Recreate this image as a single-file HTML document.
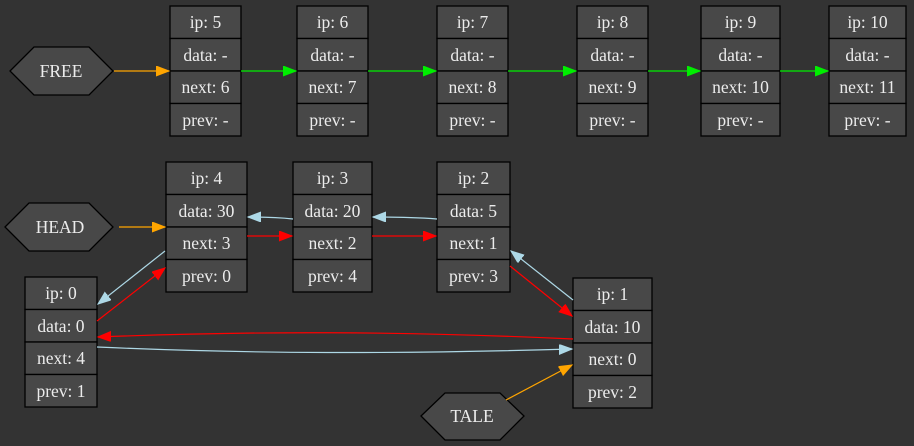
<!DOCTYPE html>
<html><head><meta charset="utf-8"><style>
html,body{margin:0;padding:0;background:#333333;}
svg{display:block;}
text{font-family:"Liberation Serif",serif;font-size:17.5px;fill:#ececec;text-anchor:middle;}
.c{fill:#484848;stroke:#000;stroke-width:1.3;}
</style></head><body>
<svg width="914" height="446" viewBox="0 0 914 446" xmlns="http://www.w3.org/2000/svg">
<rect width="914" height="446" fill="#333333"/>
<defs>
<marker id="aO" markerUnits="userSpaceOnUse" markerWidth="15" markerHeight="12" refX="13" refY="5" orient="auto"><path d="M0,0 L13,5 L0,10 z" fill="orange" stroke="orange"/></marker>
<marker id="aG" markerUnits="userSpaceOnUse" markerWidth="15" markerHeight="12" refX="13" refY="5" orient="auto"><path d="M0,0 L13,5 L0,10 z" fill="#00ee00" stroke="#00ee00"/></marker>
<marker id="aR" markerUnits="userSpaceOnUse" markerWidth="15" markerHeight="12" refX="13" refY="5" orient="auto"><path d="M0,0 L13,5 L0,10 z" fill="red" stroke="red"/></marker>
<marker id="aB" markerUnits="userSpaceOnUse" markerWidth="15" markerHeight="12" refX="13" refY="5" orient="auto"><path d="M0,0 L13,5 L0,10 z" fill="lightblue" stroke="lightblue"/></marker>
</defs>

<polygon class="c" points="10,71 34,47 89,47 113,71 89,95 34,95"/><text x="61" y="77">FREE</text>
<polygon class="c" points="5,227 29,203 89,203 113,227 89,251 29,251"/><text x="60" y="233">HEAD</text>
<polygon class="c" points="421,416 445,393 500,393 524,416 500,440 445,440"/><text x="472" y="422">TALE</text>

<g>
<rect class="c" x="170" y="6" width="71" height="32.5"/><rect class="c" x="170" y="38.5" width="71" height="32.5"/><rect class="c" x="170" y="71" width="71" height="32.5"/><rect class="c" x="170" y="103.5" width="71" height="32.5"/>
<text x="205.5" y="28">ip: 5</text><text x="205.5" y="61">data: -</text><text x="205.5" y="93">next: 6</text><text x="205.5" y="126">prev: -</text>
<rect class="c" x="297" y="6" width="71" height="32.5"/><rect class="c" x="297" y="38.5" width="71" height="32.5"/><rect class="c" x="297" y="71" width="71" height="32.5"/><rect class="c" x="297" y="103.5" width="71" height="32.5"/>
<text x="332.5" y="28">ip: 6</text><text x="332.5" y="61">data: -</text><text x="332.5" y="93">next: 7</text><text x="332.5" y="126">prev: -</text>
<rect class="c" x="437" y="6" width="71" height="32.5"/><rect class="c" x="437" y="38.5" width="71" height="32.5"/><rect class="c" x="437" y="71" width="71" height="32.5"/><rect class="c" x="437" y="103.5" width="71" height="32.5"/>
<text x="472.5" y="28">ip: 7</text><text x="472.5" y="61">data: -</text><text x="472.5" y="93">next: 8</text><text x="472.5" y="126">prev: -</text>
<rect class="c" x="577" y="6" width="71" height="32.5"/><rect class="c" x="577" y="38.5" width="71" height="32.5"/><rect class="c" x="577" y="71" width="71" height="32.5"/><rect class="c" x="577" y="103.5" width="71" height="32.5"/>
<text x="612.5" y="28">ip: 8</text><text x="612.5" y="61">data: -</text><text x="612.5" y="93">next: 9</text><text x="612.5" y="126">prev: -</text>
<rect class="c" x="701" y="6" width="79" height="32.5"/><rect class="c" x="701" y="38.5" width="79" height="32.5"/><rect class="c" x="701" y="71" width="79" height="32.5"/><rect class="c" x="701" y="103.5" width="79" height="32.5"/>
<text x="740.5" y="28">ip: 9</text><text x="740.5" y="61">data: -</text><text x="740.5" y="93">next: 10</text><text x="740.5" y="126">prev: -</text>
<rect class="c" x="829" y="6" width="77" height="32.5"/><rect class="c" x="829" y="38.5" width="77" height="32.5"/><rect class="c" x="829" y="71" width="77" height="32.5"/><rect class="c" x="829" y="103.5" width="77" height="32.5"/>
<text x="867.5" y="28">ip: 10</text><text x="867.5" y="61">data: -</text><text x="867.5" y="93">next: 11</text><text x="867.5" y="126">prev: -</text>
</g>

<g>
<rect class="c" x="166" y="162" width="81" height="32.5"/><rect class="c" x="166" y="194.5" width="81" height="32.5"/><rect class="c" x="166" y="227" width="81" height="32.5"/><rect class="c" x="166" y="259.5" width="81" height="32.5"/>
<text x="206.5" y="184">ip: 4</text><text x="206.5" y="217">data: 30</text><text x="206.5" y="249">next: 3</text><text x="206.5" y="282">prev: 0</text>
<rect class="c" x="293" y="162" width="79" height="32.5"/><rect class="c" x="293" y="194.5" width="79" height="32.5"/><rect class="c" x="293" y="227" width="79" height="32.5"/><rect class="c" x="293" y="259.5" width="79" height="32.5"/>
<text x="332.5" y="184">ip: 3</text><text x="332.5" y="217">data: 20</text><text x="332.5" y="249">next: 2</text><text x="332.5" y="282">prev: 4</text>
<rect class="c" x="437" y="162" width="73" height="32.5"/><rect class="c" x="437" y="194.5" width="73" height="32.5"/><rect class="c" x="437" y="227" width="73" height="32.5"/><rect class="c" x="437" y="259.5" width="73" height="32.5"/>
<text x="473.5" y="184">ip: 2</text><text x="473.5" y="217">data: 5</text><text x="473.5" y="249">next: 1</text><text x="473.5" y="282">prev: 3</text>
<rect class="c" x="25" y="277" width="72" height="32.5"/><rect class="c" x="25" y="309.5" width="72" height="32.5"/><rect class="c" x="25" y="342" width="72" height="32.5"/><rect class="c" x="25" y="374.5" width="72" height="32.5"/>
<text x="61" y="299">ip: 0</text><text x="61" y="332">data: 0</text><text x="61" y="364">next: 4</text><text x="61" y="397">prev: 1</text>
<rect class="c" x="573" y="278" width="79" height="32.5"/><rect class="c" x="573" y="310.5" width="79" height="32.5"/><rect class="c" x="573" y="343" width="79" height="32.5"/><rect class="c" x="573" y="375.5" width="79" height="32.5"/>
<text x="612.5" y="300">ip: 1</text><text x="612.5" y="333">data: 10</text><text x="612.5" y="365">next: 0</text><text x="612.5" y="398">prev: 2</text>
</g>

<g fill="none" stroke-width="1.2">
<path d="M114,71 L169,71" stroke="orange" marker-end="url(#aO)"/>
<path d="M241,71 L296,71" stroke="#00ee00" marker-end="url(#aG)"/>
<path d="M368,71 L436,71" stroke="#00ee00" marker-end="url(#aG)"/>
<path d="M508,71 L576,71" stroke="#00ee00" marker-end="url(#aG)"/>
<path d="M648,71 L700,71" stroke="#00ee00" marker-end="url(#aG)"/>
<path d="M780,71 L828,71" stroke="#00ee00" marker-end="url(#aG)"/>

<path d="M119,227 L165,227" stroke="orange" marker-end="url(#aO)"/>
<path d="M247,236 L292,236" stroke="red" marker-end="url(#aR)"/>
<path d="M372,236 L436,236" stroke="red" marker-end="url(#aR)"/>
<path d="M293,219 C275,217 262,217 248,217" stroke="lightblue" marker-end="url(#aB)"/>
<path d="M437,219 C410,217 390,217 373,217" stroke="lightblue" marker-end="url(#aB)"/>
<path d="M165,251 L98,304" stroke="lightblue" marker-end="url(#aB)"/>
<path d="M97,321 L165,268" stroke="red" marker-end="url(#aR)"/>
<path d="M510,266 L572,316" stroke="red" marker-end="url(#aR)"/>
<path d="M573,300 L511,251" stroke="lightblue" marker-end="url(#aB)"/>
<path d="M573,339 C400,331 250,331 98,337" stroke="red" marker-end="url(#aR)"/>
<path d="M97,347 C250,354 400,354 572,349" stroke="lightblue" marker-end="url(#aB)"/>
<path d="M506,400 L572,365" stroke="orange" marker-end="url(#aO)"/>
</g>
</svg>
</body></html>
